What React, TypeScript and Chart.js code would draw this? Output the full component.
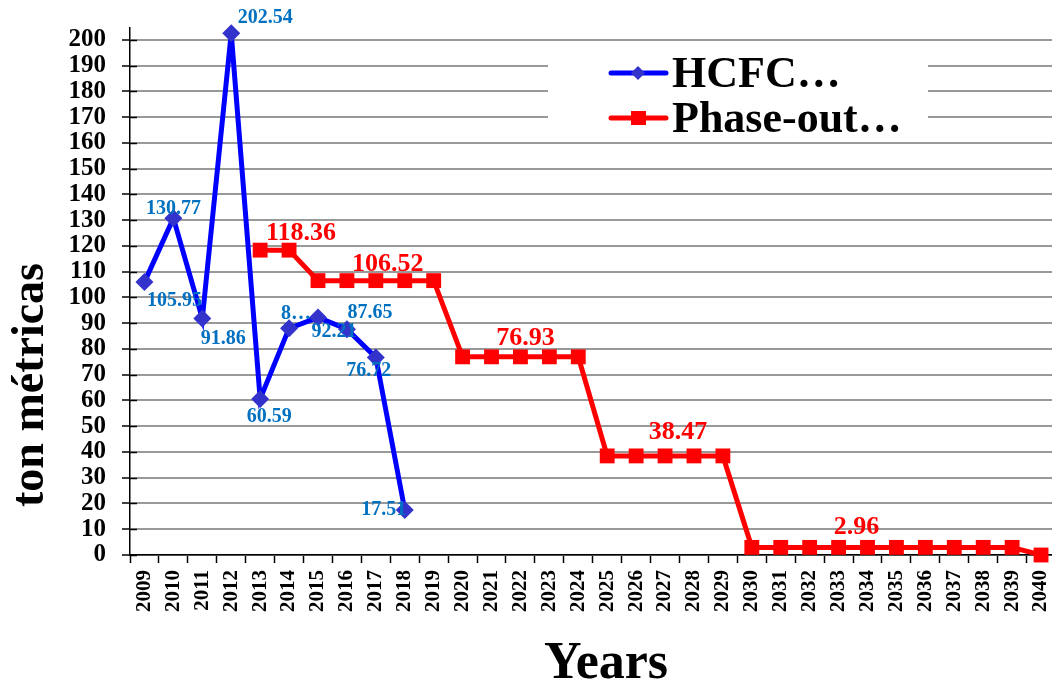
import React, { useEffect, useRef } from 'react';
import { Chart, registerables } from 'chart.js';

Chart.register(...registerables);

// ---------- data ----------
const years = [
  '2009', '2010', '2011', '2012', '2013', '2014', '2015', '2016', '2017', '2018',
  '2019', '2020', '2021', '2022', '2023', '2024', '2025', '2026', '2027', '2028',
  '2029', '2030', '2031', '2032', '2033', '2034', '2035', '2036', '2037', '2038',
  '2039', '2040',
];

const hcfcValues: (number | null)[] = [
  105.95, 130.77, 91.86, 202.54, 60.59, 88.0, 92.21, 87.65, 76.72, 17.51,
  null, null, null, null, null, null, null, null, null, null,
  null, null, null, null, null, null, null, null, null, null,
  null, null,
];

const phaseOutValues: (number | null)[] = [
  null, null, null, null, 118.36, 118.36, 106.52, 106.52, 106.52, 106.52,
  106.52, 76.93, 76.93, 76.93, 76.93, 76.93, 38.47, 38.47, 38.47, 38.47,
  38.47, 2.96, 2.96, 2.96, 2.96, 2.96, 2.96, 2.96, 2.96, 2.96,
  2.96, 0,
];

const yTickValues = [0, 10, 20, 30, 40, 50, 60, 70, 80, 90, 100, 110, 120, 130, 140, 150, 160, 170, 180, 190, 200];

// data label texts (as shown in the picture), by category index
const hcfcLabels: (string | null)[] = [
  '105.95', '130.77', '91.86', '202.54', '60.59', '8…', '92.21', '87.65', '76.72', '17.51',
];
const phaseOutLabelIndex = [5, 8, 13, 18, 24];
const phaseOutLabels = ['118.36', '106.52', '76.93', '38.47', '2.96'];

const seriesNames = ['HCFC…', 'Phase-out…'];
const yTitle = 'ton métricas';
const xTitle = 'Years';

// ---------- styling ----------
const FONT = '"Liberation Serif", "Times New Roman", serif';
const BLUE_LINE = '#0000FF';
const BLUE_MARK = '#3333CC';
const BLUE_TEXT = '#0070C0';
const RED = '#FF0000';

const hcfcLabelOffsets: [number, number][] = [
  [30, 19], [0, -9], [21, 20], [34, -15], [9, 18], [7, -15], [16, 14], [23, -16], [-7, 13], [-21, 0],
];
const phaseOutLabelOffsets: [number, number][] = [
  [12, -17], [12, -16], [5, -19], [13, -24], [18, -20],
];

const extrasPlugin = {
  id: 'extras',
  beforeDatasetsDraw(chart: any) {
    const { ctx, chartArea, scales } = chart;
    const y = scales.y;
    ctx.save();
    ctx.strokeStyle = '#000';
    ctx.lineWidth = 1.5;
    y.ticks.forEach((t: any) => {
      const py = Math.round(y.getPixelForValue(t.value)) + 0.5;
      ctx.beginPath();
      ctx.moveTo(chartArea.left, py);
      ctx.lineTo(chartArea.left + 7, py);
      ctx.stroke();
    });
    ctx.restore();
  },
  afterDatasetsDraw(chart: any) {
    const { ctx } = chart;
    ctx.save();
    ctx.textAlign = 'center';
    ctx.textBaseline = 'middle';
    // blue labels
    const m0 = chart.getDatasetMeta(1);
    ctx.font = `bold 20px ${FONT}`;
    ctx.fillStyle = BLUE_TEXT;
    hcfcLabels.forEach((txt, i) => {
      if (!txt) return;
      const el = m0.data[i];
      if (!el) return;
      const [dx, dy] = hcfcLabelOffsets[i];
      ctx.fillText(txt, el.x + dx, el.y + dy);
    });
    // red labels
    const m1 = chart.getDatasetMeta(0);
    ctx.font = `bold 26px ${FONT}`;
    ctx.fillStyle = RED;
    phaseOutLabelIndex.forEach((idx, k) => {
      const el = m1.data[idx];
      if (!el) return;
      const [dx, dy] = phaseOutLabelOffsets[k];
      ctx.fillText(phaseOutLabels[k], el.x + dx, el.y + dy);
    });
    ctx.restore();
  },
  afterDraw(chart: any) {
    const { ctx } = chart;
    ctx.save();
    // legend box
    ctx.fillStyle = '#FFFFFF';
    ctx.fillRect(548, 45, 380, 95);
    ctx.lineCap = 'round';
    ctx.lineWidth = 5;
    // HCFC
    ctx.strokeStyle = BLUE_LINE;
    ctx.beginPath();
    ctx.moveTo(611, 73);
    ctx.lineTo(666, 73);
    ctx.stroke();
    ctx.fillStyle = BLUE_MARK;
    ctx.beginPath();
    ctx.moveTo(638, 66);
    ctx.lineTo(645, 73);
    ctx.lineTo(638, 80);
    ctx.lineTo(631, 73);
    ctx.closePath();
    ctx.fill();
    // Phase-out
    ctx.strokeStyle = RED;
    ctx.beginPath();
    ctx.moveTo(611, 118);
    ctx.lineTo(666, 118);
    ctx.stroke();
    ctx.fillStyle = RED;
    ctx.fillRect(631, 111, 15, 14);
    // legend text
    ctx.fillStyle = '#000';
    ctx.font = `bold 44px ${FONT}`;
    ctx.textAlign = 'left';
    ctx.textBaseline = 'alphabetic';
    ctx.fillText(seriesNames[0], 672, 87);
    ctx.fillText(seriesNames[1], 672, 132);
    // axis titles
    ctx.textAlign = 'center';
    ctx.font = `bold 52px ${FONT}`;
    ctx.fillText(xTitle, 606, 678);
    ctx.translate(43, 385);
    ctx.rotate(-Math.PI / 2);
    ctx.font = `bold 46px ${FONT}`;
    ctx.fillText(yTitle, 0, 0);
    ctx.restore();
  },
};

export default function App() {
  const ref = useRef<HTMLCanvasElement | null>(null);

  useEffect(() => {
    if (!ref.current) return;
    const chart = new Chart(ref.current, {
      type: 'line',
      data: {
        labels: years,
        datasets: [
          {
            label: seriesNames[1],
            data: phaseOutValues,
            borderColor: RED,
            backgroundColor: RED,
            borderWidth: 5,
            pointStyle: 'rect',
            pointRadius: 10.5,
            pointBorderWidth: 0,
            pointBackgroundColor: RED,
            pointBorderColor: RED,
            tension: 0,
            order: 0,
            clip: false as any,
          },
          {
            label: seriesNames[0],
            data: hcfcValues,
            borderColor: BLUE_LINE,
            backgroundColor: BLUE_MARK,
            borderWidth: 5,
            pointStyle: 'rectRot',
            pointRadius: 9,
            pointBorderWidth: 0,
            pointBackgroundColor: BLUE_MARK,
            pointBorderColor: BLUE_MARK,
            tension: 0,
            order: 1,
            clip: false as any,
          },
        ],
      },
      options: {
        responsive: false,
        animation: false,
        devicePixelRatio: 1,
        layout: { padding: { left: 0, right: 10.4, top: 28, bottom: 0 } },
        plugins: {
          legend: { display: false },
          tooltip: { enabled: false },
          title: { display: false },
        },
        scales: {
          x: {
            type: 'category',
            offset: true,
            grid: {
              display: true,
              drawOnChartArea: false,
              drawTicks: true,
              tickLength: 8,
              tickColor: '#000',
              tickWidth: 1.5,
              offset: true,
            },
            border: { display: true, color: '#000', width: 1.5 },
            ticks: {
              autoSkip: false,
              minRotation: 90,
              maxRotation: 90,
              padding: 7,
              color: '#000',
              font: { family: FONT, size: 21, weight: 'bold' },
            },
            afterFit(scale: any) {
              scale.height = 134;
              scale.paddingLeft = 0;
              scale.paddingRight = 0;
            },
          },
          y: {
            type: 'linear',
            min: 0,
            max: 204.6,
            grid: {
              color: '#999999',
              lineWidth: 2,
              drawTicks: true,
              tickLength: 8,
              tickColor: '#000',
              tickWidth: 1.5,
            },
            border: { display: true, color: '#000', width: 1.5 },
            ticks: {
              stepSize: 10,
              autoSkip: false,
              padding: 16,
              color: '#000',
              font: { family: FONT, size: 25, weight: 'bold' },
            },
            afterBuildTicks(scale: any) {
              scale.ticks = yTickValues.map((v) => ({ value: v }));
            },
            afterFit(scale: any) {
              scale.width = 130;
              scale.paddingTop = 0;
              scale.paddingBottom = 0;
            },
          },
        },
      },
      plugins: [extrasPlugin],
    });
    return () => chart.destroy();
  }, []);

  return (
    <div
      style={{
        position: 'fixed',
        left: 0,
        top: 0,
        width: 1052,
        height: 689,
        overflow: 'hidden',
        background: '#fff',
      }}
    >
      <canvas ref={ref} width={1066} height={689} style={{ display: 'block' }} />
    </div>
  );
}
